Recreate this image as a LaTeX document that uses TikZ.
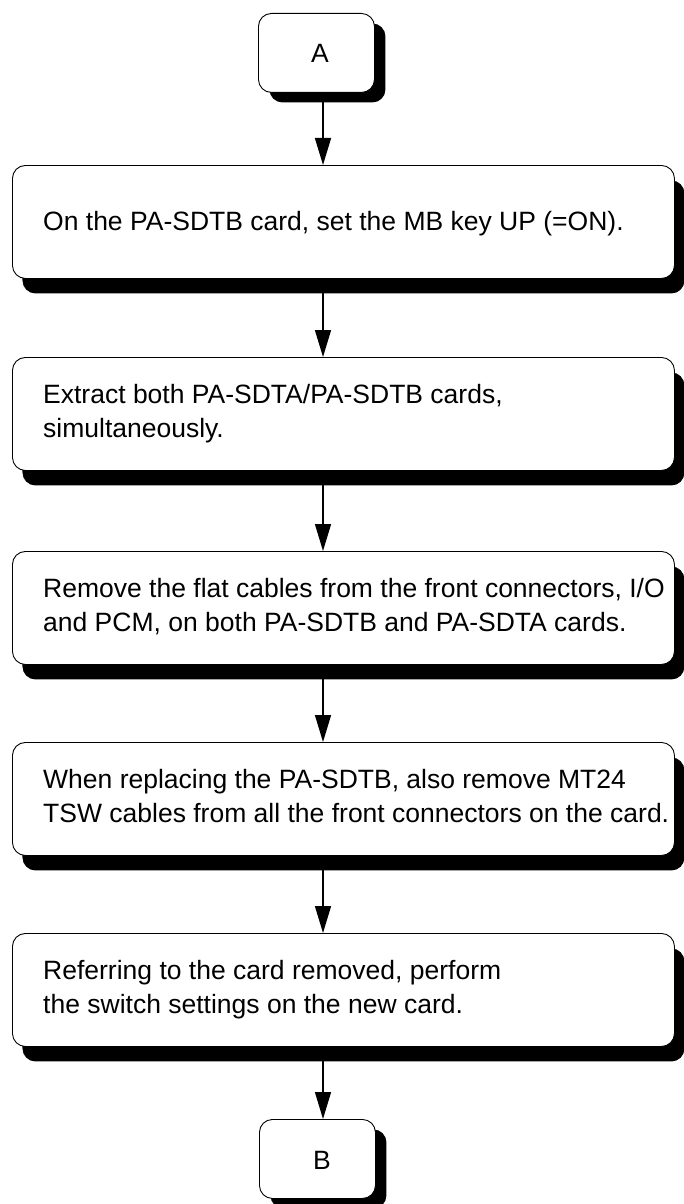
\documentclass[tikz,border=0pt]{standalone}
\usepackage{fontspec}
\setmainfont{Liberation Sans}
\usetikzlibrary{shadows,arrows.meta}
\begin{document}
\begin{tikzpicture}[x=1pt,y=-1pt,
  every node/.style={font=\fontsize{26.5}{32}\selectfont},
  bigbox/.style={draw=black, line width=0.9pt, fill=white, rounded corners=13pt,
    minimum width=662pt, minimum height=113pt, anchor=north west, inner sep=0pt,
    drop shadow={shadow xshift=10pt, shadow yshift=-15pt, fill=black, opacity=1}},
  termbox/.style={draw=black, line width=0.9pt, fill=white, rounded corners=13pt,
    minimum width=116pt, minimum height=79pt, anchor=north west, inner sep=0pt,
    drop shadow={shadow xshift=11pt, shadow yshift=-10pt, fill=black, opacity=1}},
  txt/.style={anchor=base west, inner sep=0pt},
  termtxt/.style={anchor=base, inner sep=0pt},
  arr/.style={line width=1.4pt, -{Triangle[length=27pt,width=16pt]}}]
\fill[white] (0,0) rectangle (683,1204);
\useasboundingbox (0,0) rectangle (683,1204);
\coordinate (ax) at (323,0);

\node[termbox] (A) at (258,13) {};
\node[bigbox] (b1) at (12,165) {};
\node[bigbox] (b2) at (12,357) {};
\node[bigbox] (b3) at (12,551) {};
\node[bigbox] (b4) at (12,742) {};
\node[bigbox] (b5) at (12,933) {};
\node[termbox] (B) at (259,1119) {};

\node[termtxt] (tA) at (320,63) {A};
\node[termtxt] (tB) at (322,1169) {B};
\node[txt] (t1) at (43,230) {On the PA-SDTB card, set the MB key UP (=ON).};
\node[txt] (t2a) at (43,403) {Extract both PA-SDTA/PA-SDTB cards,};
\node[txt] (t2b) at (43,437) {simultaneously.};
\node[txt] (t3a) at (43,597) {Remove the flat cables from the front connectors, I/O};
\node[txt] (t3b) at (43,631) {and PCM, on both PA-SDTB and PA-SDTA cards.};
\node[txt] (t4a) at (43,788) {When replacing the PA-SDTB, also remove MT24};
\node[txt] (t4b) at (43,822) {TSW cables from all the front connectors on the card.};
\node[txt] (t5a) at (43,979) {Referring to the card removed, perform};
\node[txt] (t5b) at (43,1013) {the switch settings on the new card.};

\draw[arr] (A.south -| ax) -- (b1.north -| ax);
\draw[arr] (b1.south -| ax) -- (b2.north -| ax);
\draw[arr] (b2.south -| ax) -- (b3.north -| ax);
\draw[arr] (b3.south -| ax) -- (b4.north -| ax);
\draw[arr] (b4.south -| ax) -- (b5.north -| ax);
\draw[arr] (b5.south -| ax) -- (B.north -| ax);
\end{tikzpicture}
\end{document}
